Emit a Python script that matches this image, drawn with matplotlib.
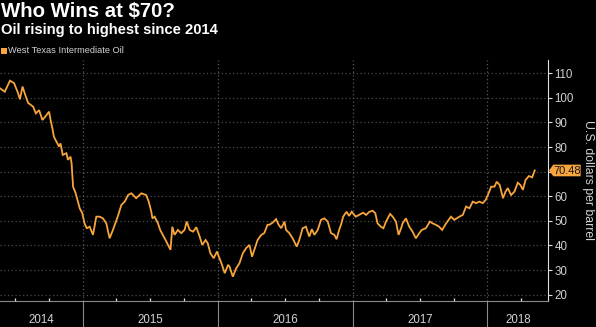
import matplotlib
matplotlib.use('Agg')
from matplotlib import pyplot as plt
from matplotlib import dates as mdates
from matplotlib import transforms as mtransforms
from matplotlib.patches import Polygon, Rectangle
import pandas as pd

title = 'Who Wins at $70?'
subtitle = 'Oil rising to highest since 2014'
series_name = 'West Texas Intermediate Oil'
y_label = 'U.S. dollars per barrel'
last_price = 70.48

# WTI front-month close, USD per barrel
dates = [
    '2014-05-21', '2014-06-03', '2014-06-17', '2014-06-28', '2014-07-09', '2014-07-14',
    '2014-07-21', '2014-07-30', '2014-08-05', '2014-08-19', '2014-08-26', '2014-09-04',
    '2014-09-13', '2014-09-24', '2014-10-01', '2014-10-05', '2014-10-10', '2014-10-14',
    '2014-10-21', '2014-10-28', '2014-11-01', '2014-11-07', '2014-11-17', '2014-11-21',
    '2014-11-28', '2014-12-01', '2014-12-03', '2014-12-05', '2014-12-12', '2014-12-17',
    '2014-12-23', '2014-12-30', '2015-01-05', '2015-01-11', '2015-01-19', '2015-01-28',
    '2015-02-06', '2015-02-15', '2015-02-24', '2015-03-05', '2015-03-14', '2015-03-23',
    '2015-04-05', '2015-04-15', '2015-04-24', '2015-05-03', '2015-05-12', '2015-05-25',
    '2015-06-08', '2015-06-21', '2015-06-28', '2015-07-05', '2015-07-08', '2015-07-14',
    '2015-07-23', '2015-07-29', '2015-08-05', '2015-08-15', '2015-08-26', '2015-08-31',
    '2015-09-06', '2015-09-15', '2015-09-24', '2015-10-03', '2015-10-09', '2015-10-17',
    '2015-10-26', '2015-11-04', '2015-11-13', '2015-11-20', '2015-11-29', '2015-12-05',
    '2015-12-12', '2015-12-21', '2015-12-30', '2016-01-04', '2016-01-11', '2016-01-20',
    '2016-01-29', '2016-02-02', '2016-02-11', '2016-02-20', '2016-02-29', '2016-03-09',
    '2016-03-18', '2016-03-27', '2016-04-03', '2016-04-12', '2016-04-18', '2016-04-28',
    '2016-05-06', '2016-05-15', '2016-05-20', '2016-05-29', '2016-06-07', '2016-06-14',
    '2016-06-21', '2016-06-30', '2016-07-04', '2016-07-13', '2016-07-22', '2016-08-02',
    '2016-08-09', '2016-08-18', '2016-08-27', '2016-09-05', '2016-09-12', '2016-09-19',
    '2016-09-28', '2016-10-07', '2016-10-16', '2016-10-25', '2016-11-03', '2016-11-12',
    '2016-11-18', '2016-11-25', '2016-11-30', '2016-12-06', '2016-12-15', '2016-12-22',
    '2016-12-29', '2017-01-09', '2017-01-18', '2017-01-29', '2017-02-06', '2017-02-15',
    '2017-02-24', '2017-03-03', '2017-03-09', '2017-03-18', '2017-03-25', '2017-04-01',
    '2017-04-12', '2017-04-19', '2017-04-28', '2017-05-05', '2017-05-12', '2017-05-16',
    '2017-05-25', '2017-06-03', '2017-06-12', '2017-06-21', '2017-06-30', '2017-07-07',
    '2017-07-18', '2017-07-29', '2017-08-05', '2017-08-14', '2017-08-23', '2017-08-31',
    '2017-09-11', '2017-09-24', '2017-10-03', '2017-10-17', '2017-10-26', '2017-11-04',
    '2017-11-13', '2017-11-22', '2017-12-01', '2017-12-10', '2017-12-19', '2017-12-27',
    '2018-01-02', '2018-01-11', '2018-01-20', '2018-01-26', '2018-02-03', '2018-02-12',
    '2018-02-19', '2018-02-25', '2018-03-06', '2018-03-15', '2018-03-24', '2018-03-31',
    '2018-04-07', '2018-04-14', '2018-04-23', '2018-05-02', '2018-05-09',
]
wti = [
    103.9, 102.5, 107.0, 106.0, 101.9, 99.4,
    104.6, 100.5, 98.0, 96.4, 93.7, 95.0,
    91.0, 93.0, 94.4, 91.0, 87.6, 84.2,
    82.2, 80.2, 81.5, 76.8, 77.5, 74.8,
    76.1, 73.4, 68.7, 63.9, 61.2, 58.5,
    55.1, 53.1, 49.0, 47.0, 47.6, 44.3,
    51.7, 51.7, 51.0, 49.0, 42.9, 46.3,
    51.7, 56.5, 57.8, 60.5, 61.2, 59.2,
    61.2, 60.5, 57.8, 53.7, 51.0, 51.7,
    49.0, 46.3, 44.3, 41.5, 38.2, 47.6,
    44.3, 46.3, 45.0, 46.3, 49.7, 46.3,
    45.6, 47.4, 43.6, 40.2, 42.2, 40.9,
    36.8, 34.8, 37.5, 35.4, 32.8, 28.7,
    32.1, 31.4, 27.3, 30.7, 32.8, 36.8,
    38.9, 40.2, 35.4, 39.5, 42.2, 44.3,
    45.0, 48.4, 48.4, 49.3, 50.7, 48.4,
    47.0, 49.7, 46.3, 45.0, 42.9, 39.5,
    42.2, 47.0, 47.6, 43.6, 46.6, 44.3,
    46.3, 50.4, 51.0, 49.7, 45.0, 44.3,
    42.5, 46.3, 48.4, 51.7, 53.7, 52.0,
    53.7, 51.7, 52.4, 53.3, 52.4, 53.7,
    54.1, 53.1, 49.0, 47.6, 47.0, 49.7,
    52.8, 51.7, 49.7, 44.3, 47.0, 49.0,
    51.0, 47.6, 45.6, 42.9, 45.0, 46.3,
    47.0, 49.7, 49.0, 48.4, 47.6, 46.3,
    49.0, 51.7, 50.4, 51.7, 52.4, 55.8,
    55.1, 57.8, 57.2, 57.8, 57.2, 58.5,
    60.5, 63.9, 63.9, 65.9, 64.6, 59.2,
    61.9, 63.3, 60.5, 61.9, 65.5, 64.6,
    62.6, 66.6, 68.2, 67.7, last_price,
]

y_ticks = [20, 30, 40, 50, 60, 70, 80, 90, 100, 110]
years = [2014, 2015, 2016, 2017, 2018]

orange = '#f7a53c'
grid_color = '#4a4a4a'
text_color = '#d2d2d2'

plt.rcParams['font.family'] = ['Liberation Sans', 'DejaVu Sans']

fig = plt.figure(figsize=(5.96, 3.27), dpi=100, facecolor='black')
ax = fig.add_axes([0, 0.078, 0.9195, 0.74])
ax.set_facecolor('black')

x = pd.to_datetime(dates)
ax.plot(x, wti, color=orange, lw=1.3, solid_joinstyle='miter', zorder=3)

x0, x1 = pd.Timestamp('2014-05-21'), pd.Timestamp('2018-06-14')
ax.set_xlim(x0, x1)
ax.set_ylim(17.2, 115.6)

# dotted price grid and year separators
for v in y_ticks:
    ax.axhline(v, color=grid_color, lw=0.9, ls=(0, (1, 2)), zorder=1)
for yr in years[1:]:
    ax.axvline(pd.Timestamp(f'{yr}-01-01'), color='#5a5a5a', lw=0.9, ls=(0, (1, 2)), zorder=1)

for side in ['top', 'left']:
    ax.spines[side].set_visible(False)
ax.spines['bottom'].set_color('#8a8a8a')
ax.spines['bottom'].set_linewidth(0.8)
ax.spines['right'].set_color('#e0e0e0')
ax.spines['right'].set_linewidth(0.8)

# right-hand price axis
ax.yaxis.tick_right()
ax.set_yticks(y_ticks)
ax.set_yticklabels(['' if v == 70 else str(v) for v in y_ticks])
ax.tick_params(axis='y', direction='out', length=3, width=0.8, color='#e0e0e0',
               labelsize=8.3, labelcolor=text_color, pad=1.5)

# year separators run below the axis, quarters get small ticks
ax.xaxis.set_major_locator(mdates.YearLocator())
ax.xaxis.set_minor_locator(mdates.MonthLocator(bymonth=[4, 7, 10]))
ax.xaxis.set_major_formatter(plt.NullFormatter())
ax.tick_params(axis='x', which='major', direction='out', length=19, width=0.8, color='#8a8a8a')
ax.tick_params(axis='x', which='minor', direction='in', length=2, width=0.9, color='#e6e6e6')

xb = mtransforms.blended_transform_factory(ax.transData, ax.transAxes)
for yr in years:
    a = max(pd.Timestamp(f'{yr}-01-01'), x0)
    b = min(pd.Timestamp(f'{yr + 1}-01-01'), x1)
    mid = a + (b - a) / 2
    ax.text(mid, -0.077, str(yr), transform=xb, ha='center', va='center',
            fontsize=8.3, color=text_color)

# last price tag on the axis
yb = mtransforms.blended_transform_factory(ax.transAxes, ax.transData)
tag_trans = (mtransforms.Affine2D().scale(1 / 72.0) + fig.dpi_scale_trans
             + mtransforms.ScaledTranslation(1.0, last_price, yb))
tag = Polygon([(0.7, 0), (3.8, 4.2), (23.5, 4.2), (23.5, -4.2), (3.8, -4.2)],
              closed=True, facecolor=orange, edgecolor='none',
              transform=tag_trans, clip_on=False, zorder=5)
ax.add_patch(tag)
ax.annotate(f'{last_price:.2f}', xy=(1.0, last_price), xycoords=yb,
            xytext=(13.7, -0.2), textcoords='offset points', ha='center', va='center',
            fontsize=8, color='#151515', annotation_clip=False, zorder=6)

fig.text(0.9866, 0.45, y_label, rotation=270, ha='center', va='center',
         fontsize=8.8, color=text_color)

# headline, subtitle and legend key
fig.text(0.002, 1 - 17.3 / 327, title, va='baseline', ha='left',
         fontsize=14.7, weight='bold', color='white')
fig.text(0.002, 1 - 34.3 / 327, subtitle, va='baseline', ha='left',
         fontsize=10.6, weight='bold', color='white')
fig.patches.append(Rectangle((1 / 596, 1 - 53.5 / 327), 5.8 / 596, 5.8 / 327,
                             transform=fig.transFigure, facecolor=orange,
                             edgecolor='none', figure=fig))
fig.text(8.5 / 596, 1 - 50.8 / 327, series_name, va='center', ha='left',
         fontsize=6.7, color=text_color)

fig.savefig('out.png', dpi=100, facecolor='black')
